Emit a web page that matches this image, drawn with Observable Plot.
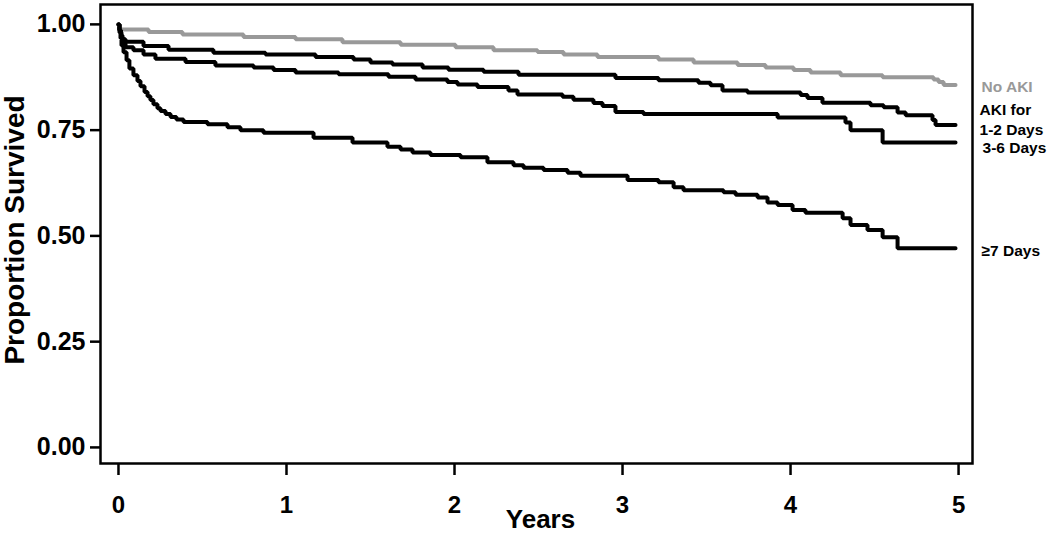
<!DOCTYPE html>
<html>
<head>
<meta charset="utf-8">
<script src="https://cdn.jsdelivr.net/npm/d3@7"></script>
<script src="https://cdn.jsdelivr.net/npm/@observablehq/plot@0.6"></script>
<style>
  html, body { margin: 0; padding: 0; background: #fff; }
  #chart svg { display: block; font-family: "Liberation Sans", Arial, sans-serif; }
</style>
</head>
<body>
<div id="chart"></div>
<script>
// Kaplan–Meier survival curves (Years, Proportion Survived)
const noAkiYears = [0, 0.003, 0.179, 0.381, 0.744, 1.054, 1.333, 1.679, 2.006, 2.232, 2.494, 2.649, 2.851, 3.214, 3.423, 3.685, 3.851, 4.018, 4.119, 4.298, 4.548, 4.851, 4.881, 4.911, 4.982];
const noAkiSurv  = [1.0, 0.988, 0.982, 0.976, 0.970, 0.965, 0.958, 0.952, 0.946, 0.939, 0.935, 0.929, 0.923, 0.917, 0.910, 0.904, 0.898, 0.892, 0.886, 0.880, 0.875, 0.870, 0.864, 0.857, 0.857];

const aki12Years = [0, 0.006, 0.015, 0.024, 0.042, 0.149, 0.298, 0.565, 0.875, 1.173, 1.399, 1.5, 1.631, 1.810, 1.964, 2.173, 2.381, 2.958, 3.214, 3.452, 3.524, 3.595, 3.744, 4.060, 4.101, 4.190, 4.476, 4.554, 4.637, 4.685, 4.845, 4.863, 4.982];
const aki12Surv  = [1.0, 0.986, 0.974, 0.965, 0.959, 0.949, 0.940, 0.933, 0.929, 0.923, 0.917, 0.910, 0.905, 0.898, 0.893, 0.888, 0.881, 0.873, 0.868, 0.862, 0.856, 0.844, 0.839, 0.833, 0.826, 0.815, 0.809, 0.804, 0.792, 0.785, 0.774, 0.762, 0.762];

const aki36Years = [0, 0.006, 0.018, 0.030, 0.042, 0.089, 0.149, 0.220, 0.399, 0.577, 0.804, 0.923, 1.054, 1.310, 1.607, 1.768, 1.958, 2.018, 2.137, 2.321, 2.375, 2.643, 2.708, 2.827, 2.881, 2.958, 3.125, 3.923, 4.327, 4.357, 4.548, 4.982];
const aki36Surv  = [1.0, 0.981, 0.967, 0.955, 0.946, 0.939, 0.929, 0.919, 0.911, 0.903, 0.898, 0.892, 0.886, 0.882, 0.876, 0.870, 0.864, 0.858, 0.852, 0.844, 0.834, 0.829, 0.822, 0.814, 0.807, 0.793, 0.788, 0.780, 0.768, 0.750, 0.721, 0.721];

const aki7Years = [0, 0.006, 0.012, 0.018, 0.030, 0.048, 0.065, 0.089, 0.113, 0.131, 0.155, 0.173, 0.190, 0.208, 0.232, 0.250, 0.280, 0.310, 0.345, 0.387, 0.530, 0.649, 0.726, 0.863, 1.161, 1.393, 1.601, 1.679, 1.750, 1.857, 2.036, 2.196, 2.351, 2.411, 2.530, 2.673, 2.750, 3.030, 3.214, 3.304, 3.363, 3.601, 3.673, 3.804, 3.863, 3.923, 4.012, 4.089, 4.310, 4.357, 4.458, 4.548, 4.637, 4.982];
const aki7Surv  = [1.0, 0.986, 0.967, 0.950, 0.934, 0.915, 0.896, 0.880, 0.866, 0.854, 0.840, 0.830, 0.821, 0.811, 0.802, 0.795, 0.788, 0.781, 0.775, 0.769, 0.764, 0.757, 0.750, 0.744, 0.732, 0.721, 0.711, 0.704, 0.697, 0.691, 0.686, 0.674, 0.667, 0.661, 0.656, 0.649, 0.642, 0.632, 0.627, 0.615, 0.608, 0.603, 0.597, 0.591, 0.579, 0.573, 0.561, 0.555, 0.542, 0.526, 0.514, 0.497, 0.471, 0.471];

const groups = ["No AKI", "1-2 Days", "3-6 Days", "≥7 Days"];
const groupColors = ["#999999", "#000000", "#000000", "#000000"];

// Right-side labels
const labelText  = ["No AKI", "AKI for", "1-2 Days", "3-6 Days", "≥7 Days"];
const labelYears = [5.137, 5.125, 5.125, 5.143, 5.137];
const labelSurv  = [0.851, 0.797, 0.750, 0.708, 0.465];
const labelColor = ["#999999", "#000000", "#000000", "#000000", "#000000"];

const xTicks = [0, 1, 2, 3, 4, 5];
const yTicks = [0, 0.25, 0.5, 0.75, 1];
const xTitle = "Years";
const yTitle = "Proportion Survived";

const series = [
  [noAkiYears, noAkiSurv],
  [aki12Years, aki12Surv],
  [aki36Years, aki36Surv],
  [aki7Years, aki7Surv]
];
const rows = series.flatMap(([xs, ys], gi) => xs.map((t, i) => ({group: groups[gi], t, s: ys[i]})));
const labels = labelText.map((text, i) => ({text, t: labelYears[i], s: labelSurv[i], c: labelColor[i]}));

const chart = Plot.plot({
  width: 1050,
  height: 535,
  marginLeft: 100,
  marginRight: 78,
  marginTop: 4,
  marginBottom: 72,
  style: {fontFamily: "'Liberation Sans', Arial, sans-serif", color: "#000", background: "#fff"},
  x: {domain: [-0.107, 5.083]},
  y: {domain: [-0.038, 1.047]},
  color: {domain: groups, range: groupColors},
  marks: [
    Plot.frame({stroke: "#000", strokeWidth: 2.5}),
    Plot.axisY({ticks: yTicks, tickFormat: d3.format(".2f"), tickSize: 10, tickPadding: 5, strokeWidth: 2.5,
      fontSize: 25, fontWeight: "bold", label: null}),
    Plot.axisX({ticks: xTicks, tickFormat: d3.format("d"), tickSize: 12, tickPadding: 20, strokeWidth: 2.5,
      fontSize: 24, fontWeight: "bold", label: null}),
    Plot.text([yTitle], {frameAnchor: "left", textAnchor: "middle", lineAnchor: "middle", rotate: -90, dx: -85, dy: -4, fontSize: 28, fontWeight: "bold", fill: "#000"}),
    Plot.text([xTitle], {frameAnchor: "bottom", textAnchor: "middle", lineAnchor: "middle", dy: 56, dx: 4, fontSize: 26, fontWeight: "bold", fill: "#000"}),
    Plot.line(rows, {x: "t", y: "s", z: "group", stroke: "group", strokeWidth: 4, curve: "step-after", strokeLinejoin: "miter"}),
    Plot.text(labels, {x: "t", y: "s", text: "text", fill: "c", textAnchor: "start", fontSize: 15.5, fontWeight: "bold"})
  ]
});
document.getElementById("chart").appendChild(chart);
</script>
</body>
</html>
